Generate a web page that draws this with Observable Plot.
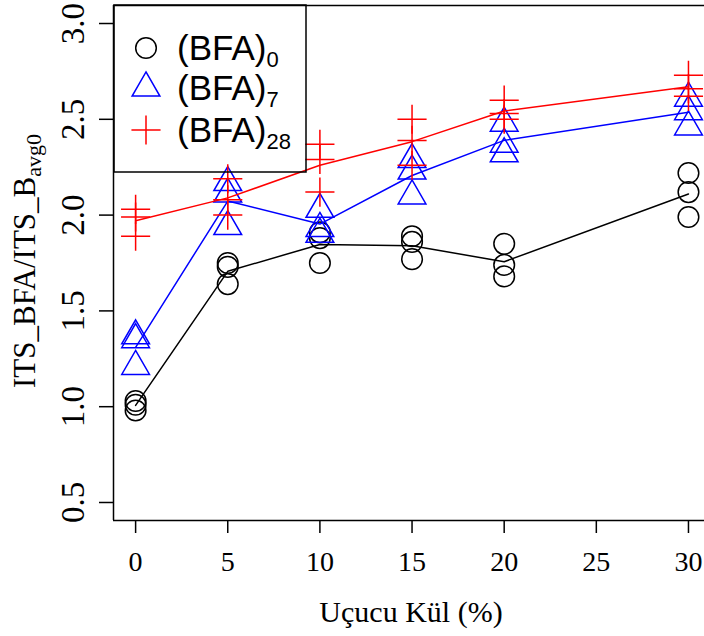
<!DOCTYPE html>
<html><head><meta charset="utf-8">
<script src="https://cdn.jsdelivr.net/npm/d3@7"></script>
<script src="https://cdn.jsdelivr.net/npm/@observablehq/plot@0.6"></script>
<style>
body{margin:0;background:#fff;overflow:hidden}
#chart{position:relative;width:704px;height:636px}
</style>
</head><body><div id="chart"></div>
<script>
// Fly ash content (%) for each replicate
const flyAsh = [0,0,0, 5,5,5, 10,10,10, 15,15,15, 20,20,20, 30,30,30];
// ITS_BFA / ITS_Bavg0 for each curing age
const bfa0  = [1.03,1.01,0.98, 1.75,1.73,1.64, 1.91,1.88,1.75, 1.89,1.86,1.77, 1.85,1.74,1.68, 2.22,2.12,1.99];
const bfa7  = [1.37,1.35,1.21, 2.17,2.11,1.94, 2.03,1.93,1.90, 2.29,2.23,2.10, 2.48,2.37,2.32, 2.61,2.54,2.46];
const bfa28 = [2.03,1.99,1.89, 2.19,2.08,2.00, 2.37,2.29,2.12, 2.50,2.39,2.26, 2.60,2.53,2.50, 2.73,2.66,2.62];

const seriesBase = "(BFA)";
const seriesSub = ["0", "7", "28"];
const seriesColors = ["black", "blue", "red"];
const xTicks = [0, 5, 10, 15, 20, 25, 30];
const yTicks = [0.5, 1.0, 1.5, 2.0, 2.5, 3.0];
const xDomain = [-1.2, 30.87];
const yDomain = [0.406, 3.094];
const xTitle = "Uçucu Kül (%)";
const yTitleMain = "ITS_BFA/ITS_B";
const yTitleSub = "avg0";

const plusSymbol = {
  draw(ctx, size) {
    const r = Math.sqrt(size / Math.PI) * Math.SQRT2;
    ctx.moveTo(-r, 0); ctx.lineTo(r, 0);
    ctx.moveTo(0, -r); ctx.lineTo(0, r);
  }
};
const symbols = ["circle", "triangle", plusSymbol];
const seriesValues = [bfa0, bfa7, bfa28];

const rows = [];
seriesValues.forEach((vals, s) => vals.forEach((v, i) => rows.push({x: flyAsh[i], y: v, s})));

const R = 10.3;
const marks = [];
seriesValues.forEach((vals, s) => {
  const data = rows.filter(d => d.s === s);
  marks.push(Plot.lineY(data, Plot.groupX({y: "mean"}, {x: "x", y: "y", stroke: seriesColors[s], strokeWidth: 1.5})));
  marks.push(Plot.dot(data, {x: "x", y: "y", r: R, symbol: symbols[s], stroke: seriesColors[s], fill: "none", strokeWidth: 1.5}));
});

const serif = "'Liberation Serif','Times New Roman',serif";
const plot = Plot.plot({
  width: 704, height: 636,
  marginLeft: 113, marginRight: 0, marginTop: 5, marginBottom: 116,
  style: {fontFamily: serif, background: "white", color: "black"},
  x: {domain: xDomain},
  y: {domain: yDomain},
  marks: [
    Plot.ruleX([xDomain[0]], {stroke: "black", strokeWidth: 1.5}),
    Plot.ruleY([yDomain[0], yDomain[1]], {stroke: "black", strokeWidth: 1.5}),
    Plot.axisX({ticks: xTicks, tickSize: 13, tickPadding: 18, fontSize: 28, label: null, strokeWidth: 1.5, tickFormat: d => String(d)}),
    Plot.axisY({ticks: yTicks, tickSize: 14, tickPadding: 16, tickRotate: -90, fontSize: 33, label: null, strokeWidth: 1.5, tickFormat: d3.format(".1f")}),
    ...marks
  ]
});
document.getElementById("chart").appendChild(plot);

const svg = d3.select(plot);
// axis titles
svg.append("text")
  .attr("x", 411).attr("y", 622)
  .attr("text-anchor", "middle")
  .attr("font-family", serif)
  .attr("font-size", 30).attr("fill", "black")
  .text(xTitle);
const yt = svg.append("text")
  .attr("transform", "translate(35,261) rotate(-90)")
  .attr("text-anchor", "middle")
  .attr("font-family", serif)
  .attr("font-size", 31).attr("fill", "black");
yt.append("tspan").text(yTitleMain);
yt.append("tspan").attr("font-size", 22).attr("dy", 6).text(yTitleSub);

// legend (top-left, transparent background)
const lg = svg.append("g").attr("text-anchor", "start");
lg.append("rect").attr("x", 114).attr("y", 5).attr("width", 192).attr("height", 167)
  .attr("fill", "none").attr("stroke", "black").attr("stroke-width", 1.5);
const rowY = [48, 88, 130];
const d3Types = [d3.symbolCircle, d3.symbolTriangle, plusSymbol];
seriesSub.forEach((sub, s) => {
  lg.append("path")
    .attr("d", d3.symbol(d3Types[s], Math.PI * R * R)())
    .attr("transform", `translate(146,${rowY[s]})`)
    .attr("fill", "none").attr("stroke", seriesColors[s]).attr("stroke-width", 1.5);
  const t = lg.append("text")
    .attr("x", 177).attr("y", rowY[s] + 12)
    .attr("text-anchor", "start")
    .attr("font-family", "'Liberation Sans',Arial,sans-serif")
    .attr("font-size", 35).attr("fill", "black");
  t.append("tspan").text(seriesBase);
  t.append("tspan").attr("font-size", 22).attr("dy", 7).text(sub);
});
</script>
</body></html>
